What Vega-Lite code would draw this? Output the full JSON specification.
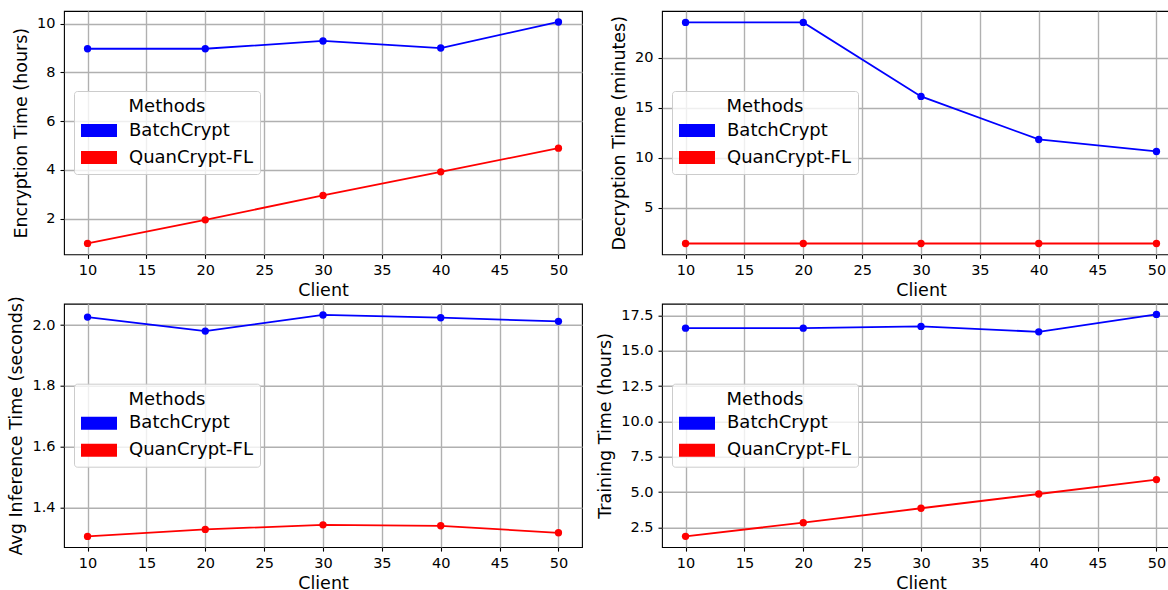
{
  "$schema": "https://vega.github.io/schema/vega-lite/v6.json",
  "padding": {"left": 6, "top": 10, "right": 0, "bottom": 0},
  "background": "white",
  "datasets": {
    "d": [
      {"panel": "enc", "client": 10, "method": "BatchCrypt", "value": 8.97},
      {"panel": "enc", "client": 20, "method": "BatchCrypt", "value": 8.97},
      {"panel": "enc", "client": 30, "method": "BatchCrypt", "value": 9.29},
      {"panel": "enc", "client": 40, "method": "BatchCrypt", "value": 9.0},
      {"panel": "enc", "client": 50, "method": "BatchCrypt", "value": 10.07},
      {"panel": "enc", "client": 10, "method": "QuanCrypt-FL", "value": 0.98},
      {"panel": "enc", "client": 20, "method": "QuanCrypt-FL", "value": 1.95},
      {"panel": "enc", "client": 30, "method": "QuanCrypt-FL", "value": 2.95},
      {"panel": "enc", "client": 40, "method": "QuanCrypt-FL", "value": 3.92},
      {"panel": "enc", "client": 50, "method": "QuanCrypt-FL", "value": 4.89},
      {"panel": "dec", "client": 10, "method": "BatchCrypt", "value": 23.53},
      {"panel": "dec", "client": 20, "method": "BatchCrypt", "value": 23.53},
      {"panel": "dec", "client": 30, "method": "BatchCrypt", "value": 16.13},
      {"panel": "dec", "client": 40, "method": "BatchCrypt", "value": 11.83},
      {"panel": "dec", "client": 50, "method": "BatchCrypt", "value": 10.63},
      {"panel": "dec", "client": 10, "method": "QuanCrypt-FL", "value": 1.43},
      {"panel": "dec", "client": 20, "method": "QuanCrypt-FL", "value": 1.43},
      {"panel": "dec", "client": 30, "method": "QuanCrypt-FL", "value": 1.43},
      {"panel": "dec", "client": 40, "method": "QuanCrypt-FL", "value": 1.43},
      {"panel": "dec", "client": 50, "method": "QuanCrypt-FL", "value": 1.43},
      {"panel": "inf", "client": 10, "method": "BatchCrypt", "value": 2.026},
      {"panel": "inf", "client": 20, "method": "BatchCrypt", "value": 1.98},
      {"panel": "inf", "client": 30, "method": "BatchCrypt", "value": 2.033},
      {"panel": "inf", "client": 40, "method": "BatchCrypt", "value": 2.024},
      {"panel": "inf", "client": 50, "method": "BatchCrypt", "value": 2.012},
      {"panel": "inf", "client": 10, "method": "QuanCrypt-FL", "value": 1.306},
      {"panel": "inf", "client": 20, "method": "QuanCrypt-FL", "value": 1.329},
      {"panel": "inf", "client": 30, "method": "QuanCrypt-FL", "value": 1.344},
      {"panel": "inf", "client": 40, "method": "QuanCrypt-FL", "value": 1.341},
      {"panel": "inf", "client": 50, "method": "QuanCrypt-FL", "value": 1.318},
      {"panel": "train", "client": 10, "method": "BatchCrypt", "value": 16.6},
      {"panel": "train", "client": 20, "method": "BatchCrypt", "value": 16.6},
      {"panel": "train", "client": 30, "method": "BatchCrypt", "value": 16.72},
      {"panel": "train", "client": 40, "method": "BatchCrypt", "value": 16.34},
      {"panel": "train", "client": 50, "method": "BatchCrypt", "value": 17.57},
      {"panel": "train", "client": 10, "method": "QuanCrypt-FL", "value": 1.86},
      {"panel": "train", "client": 20, "method": "QuanCrypt-FL", "value": 2.83},
      {"panel": "train", "client": 30, "method": "QuanCrypt-FL", "value": 3.85},
      {"panel": "train", "client": 40, "method": "QuanCrypt-FL", "value": 4.86},
      {"panel": "train", "client": 50, "method": "QuanCrypt-FL", "value": 5.88}
    ]
  },
  "config": {
    "font": "DejaVu Sans",
    "view": {"stroke": "black", "strokeWidth": 1.1},
    "axis": {
      "domain": false,
      "grid": true,
      "gridColor": "#b0b0b0",
      "gridWidth": 1.4,
      "tickColor": "black",
      "tickSize": 4,
      "tickWidth": 1.1,
      "labelColor": "black",
      "labelFontSize": 14.5,
      "labelFont": "DejaVu Sans",
      "labelPadding": 5,
      "titleFont": "DejaVu Sans",
      "titleFontSize": 17.5,
      "titleFontWeight": "normal",
      "titleColor": "black"
    },
    "axisX": {"titlePadding": 5},
    "axisY": {"titlePadding": 6.5},
    "legend": {
      "orient": "none",
      "legendX": 10,
      "legendY": 80,
      "fillColor": "rgba(255,255,255,0.8)",
      "strokeColor": "#cccccc",
      "cornerRadius": 3,
      "padding": 7,
      "titleFont": "DejaVu Sans",
      "titleFontSize": 18,
      "titleFontWeight": "normal",
      "titleColor": "black",
      "titleAnchor": "middle",
      "titleAlign": "center",
      "titlePadding": 5.5,
      "labelFont": "DejaVu Sans",
      "labelFontSize": 18,
      "labelColor": "black",
      "labelOffset": 21,
      "rowPadding": 9,
      "symbolType": "M-2,-0.72H2V0.72H-2Z",
      "symbolSize": 324,
      "symbolOffset": 9,
      "symbolStrokeWidth": 0,
      "symbolOpacity": 1
    }
  },
  "columns": 2,
  "spacing": {"row": 48.7, "column": 80},
  "bounds": "flush",
  "resolve": {
    "scale": {"x": "independent", "y": "independent", "color": "independent"},
    "legend": {"color": "independent"}
  },
  "concat": [
    {
      "width": 518, "height": 243.4,
      "data": {"name": "d"},
      "transform": [{"filter": "datum.panel == 'enc'"}],
      "encoding": {
        "x": {"field": "client", "type": "quantitative", "scale": {"domain": [8, 52], "nice": false, "zero": false}, "axis": {"values": [10, 15, 20, 25, 30, 35, 40, 45, 50], "title": "Client"}},
        "y": {"field": "value", "type": "quantitative", "scale": {"domain": [0.53, 10.52], "nice": false, "zero": false}, "axis": {"values": [2, 4, 6, 8, 10], "title": "Encryption Time (hours)"}},
        "color": {"field": "method", "type": "nominal", "scale": {"domain": ["BatchCrypt", "QuanCrypt-FL"], "range": ["#0000ff", "#ff0000"]}, "legend": {"title": "Methods"}}
      },
      "layer": [
        {"mark": {"type": "line", "strokeWidth": 1.8}},
        {"mark": {"type": "point", "filled": true, "size": 54, "opacity": 1}}
      ]
    },
    {
      "width": 518, "height": 243.4,
      "data": {"name": "d"},
      "transform": [{"filter": "datum.panel == 'dec'"}],
      "encoding": {
        "x": {"field": "client", "type": "quantitative", "scale": {"domain": [8, 52], "nice": false, "zero": false}, "axis": {"values": [10, 15, 20, 25, 30, 35, 40, 45, 50], "title": "Client"}},
        "y": {"field": "value", "type": "quantitative", "scale": {"domain": [0.34, 24.67], "nice": false, "zero": false}, "axis": {"values": [5, 10, 15, 20], "title": "Decryption Time (minutes)"}},
        "color": {"field": "method", "type": "nominal", "scale": {"domain": ["BatchCrypt", "QuanCrypt-FL"], "range": ["#0000ff", "#ff0000"]}, "legend": {"title": "Methods"}}
      },
      "layer": [
        {"mark": {"type": "line", "strokeWidth": 1.8}},
        {"mark": {"type": "point", "filled": true, "size": 54, "opacity": 1}}
      ]
    },
    {
      "width": 518, "height": 243.4,
      "data": {"name": "d"},
      "transform": [{"filter": "datum.panel == 'inf'"}],
      "encoding": {
        "x": {"field": "client", "type": "quantitative", "scale": {"domain": [8, 52], "nice": false, "zero": false}, "axis": {"values": [10, 15, 20, 25, 30, 35, 40, 45, 50], "title": "Client"}},
        "y": {"field": "value", "type": "quantitative", "scale": {"domain": [1.271, 2.07], "nice": false, "zero": false}, "axis": {"values": [1.4, 1.6, 1.8, 2.0], "format": ".1f", "title": "Avg Inference Time (seconds)"}},
        "color": {"field": "method", "type": "nominal", "scale": {"domain": ["BatchCrypt", "QuanCrypt-FL"], "range": ["#0000ff", "#ff0000"]}, "legend": {"title": "Methods"}}
      },
      "layer": [
        {"mark": {"type": "line", "strokeWidth": 1.8}},
        {"mark": {"type": "point", "filled": true, "size": 54, "opacity": 1}}
      ]
    },
    {
      "width": 518, "height": 243.4,
      "data": {"name": "d"},
      "transform": [{"filter": "datum.panel == 'train'"}],
      "encoding": {
        "x": {"field": "client", "type": "quantitative", "scale": {"domain": [8, 52], "nice": false, "zero": false}, "axis": {"values": [10, 15, 20, 25, 30, 35, 40, 45, 50], "title": "Client"}},
        "y": {"field": "value", "type": "quantitative", "scale": {"domain": [1.1, 18.33], "nice": false, "zero": false}, "axis": {"values": [2.5, 5, 7.5, 10, 12.5, 15, 17.5], "format": ".1f", "title": "Training Time (hours)"}},
        "color": {"field": "method", "type": "nominal", "scale": {"domain": ["BatchCrypt", "QuanCrypt-FL"], "range": ["#0000ff", "#ff0000"]}, "legend": {"title": "Methods"}}
      },
      "layer": [
        {"mark": {"type": "line", "strokeWidth": 1.8}},
        {"mark": {"type": "point", "filled": true, "size": 54, "opacity": 1}}
      ]
    }
  ]
}
